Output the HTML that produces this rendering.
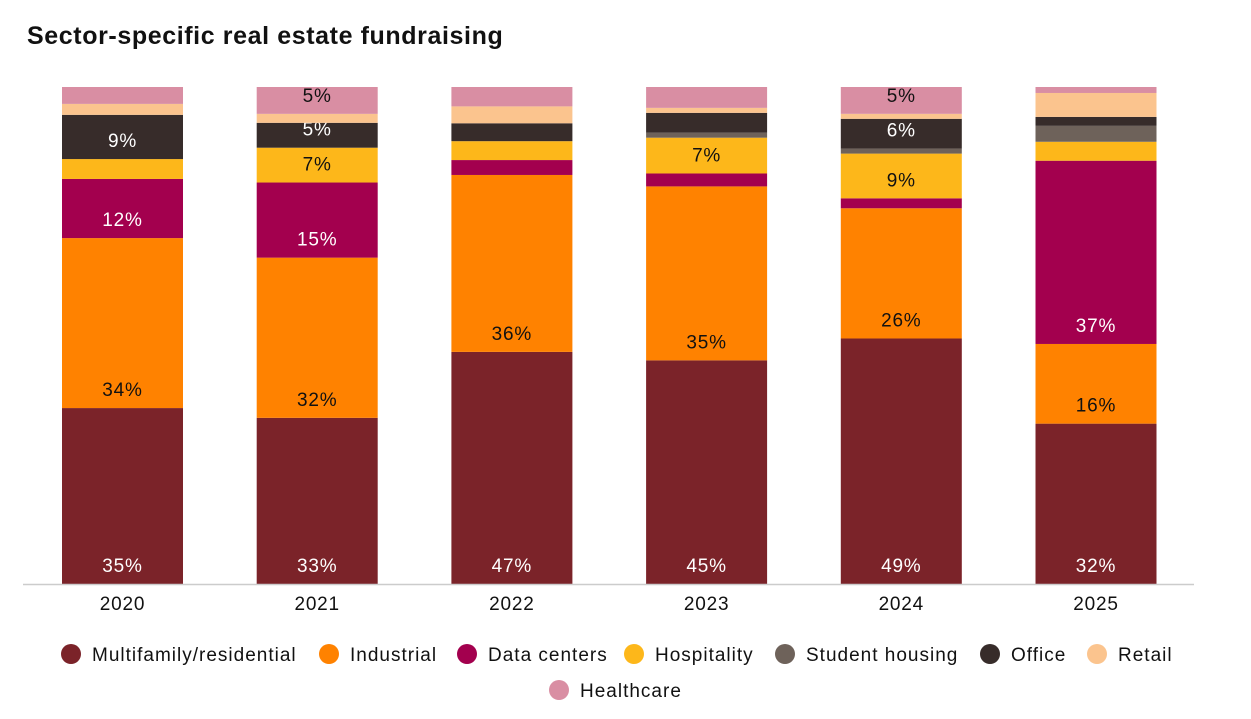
<!DOCTYPE html>
<html><head><meta charset="utf-8"><style>
body{margin:0;background:#fff;width:1251px;height:714px;overflow:hidden;font-family:"Liberation Sans",sans-serif}
text{letter-spacing:0.8px}
</style></head><body>
<svg width="1251" height="714">
<text x="27" y="44" font-size="25" font-weight="bold" fill="#111" style="letter-spacing:0.6px">Sector-specific real estate fundraising</text>
<g id="bars"></g>
<line x1="23" x2="1194" y1="584.5" y2="584.5" stroke="#ccc" stroke-width="1.5"/>
<g id="xlabels"></g>
<g id="legend"></g>
</svg>
<script>
const years=["2020","2021","2022","2023","2024","2025"];
const multifamily=[35.4,33.4,46.7,45,49.4,32.2];
const industrial=[34.2,32.2,35.6,35,26.2,16];
const dataCenters=[11.9,15.1,3,2.6,2,36.8];
const hospitality=[4,7,3.8,7.2,9,3.8];
const studentHousing=[0,0,0,1,1,3.2];
const office=[8.9,5,3.6,4,6,1.8];
const retail=[2.2,1.8,3.4,1,1,4.8];
const healthcare=[3.4,5.4,3.9,4.2,5.4,1.2];
const seriesNames=["Multifamily/residential","Industrial","Data centers","Hospitality","Student housing","Office","Retail","Healthcare"];
const series=[multifamily,industrial,dataCenters,hospitality,studentHousing,office,retail,healthcare];
const colors=["#7b2329","#ff8200","#a3004e","#fdb71a","#6e625a","#372c2a","#fbc48e","#d98ea3"];
const labelColors=["#fff","#111","#fff","#111","#fff","#fff","#111","#111"];
const NS="http://www.w3.org/2000/svg";
const y0=584,yTop=87;
function y(v){return y0-(v/100)*(y0-yTop);}
function xb(i){return 62+i*194.7;}
const bw=121;
const bars=document.getElementById('bars');
years.forEach((yr,i)=>{
  const tot=series.reduce((a,s)=>a+s[i],0);
  let cum=0;
  series.forEach((s,k)=>{
    const v=s[i]*100/tot;
    const yb=y(cum),yt=y(cum+v);cum+=v;
    if(v<=0)return;
    const r=document.createElementNS(NS,'rect');
    r.setAttribute('x',xb(i));r.setAttribute('width',bw);
    r.setAttribute('y',yt);r.setAttribute('height',yb-yt);
    r.setAttribute('fill',colors[k]);
    
    
    bars.appendChild(r);
    if(s[i]>=4.95){
      const t=document.createElementNS(NS,'text');
      t.setAttribute('x',xb(i)+bw/2);
      t.setAttribute('y',k===0?y0-12:yb-12);
      t.setAttribute('text-anchor','middle');t.setAttribute('font-size','19');
      t.setAttribute('fill',labelColors[k]);
      t.textContent=Math.round(s[i])+'%';
      
      
      bars.appendChild(t);
    }
  });
  const l=document.createElementNS(NS,'text');
  l.setAttribute('x',xb(i)+bw/2);l.setAttribute('y',610);
  l.setAttribute('text-anchor','middle');l.setAttribute('font-size','19');l.setAttribute('fill','#111');
  l.textContent=yr;
  
  
  document.getElementById('xlabels').appendChild(l);
});
const legPos=[[71,654],[329,654],[467,654],[634,654],[785,654],[990,654],[1097,654],[559,690]];
const leg=document.getElementById('legend');
seriesNames.forEach((n,k)=>{
  const g=document.createElementNS(NS,'g');
  
  
  const c=document.createElementNS(NS,'circle');
  c.setAttribute('cx',legPos[k][0]);c.setAttribute('cy',legPos[k][1]);c.setAttribute('r',10);c.setAttribute('fill',colors[k]);
  const t=document.createElementNS(NS,'text');
  t.setAttribute('x',legPos[k][0]+21);t.setAttribute('y',legPos[k][1]+7);t.setAttribute('font-size','19');t.setAttribute('fill','#111');
  t.setAttribute('style','letter-spacing:1px');
  t.textContent=n;
  g.appendChild(c);g.appendChild(t);leg.appendChild(g);
});
</script>
</body></html>
